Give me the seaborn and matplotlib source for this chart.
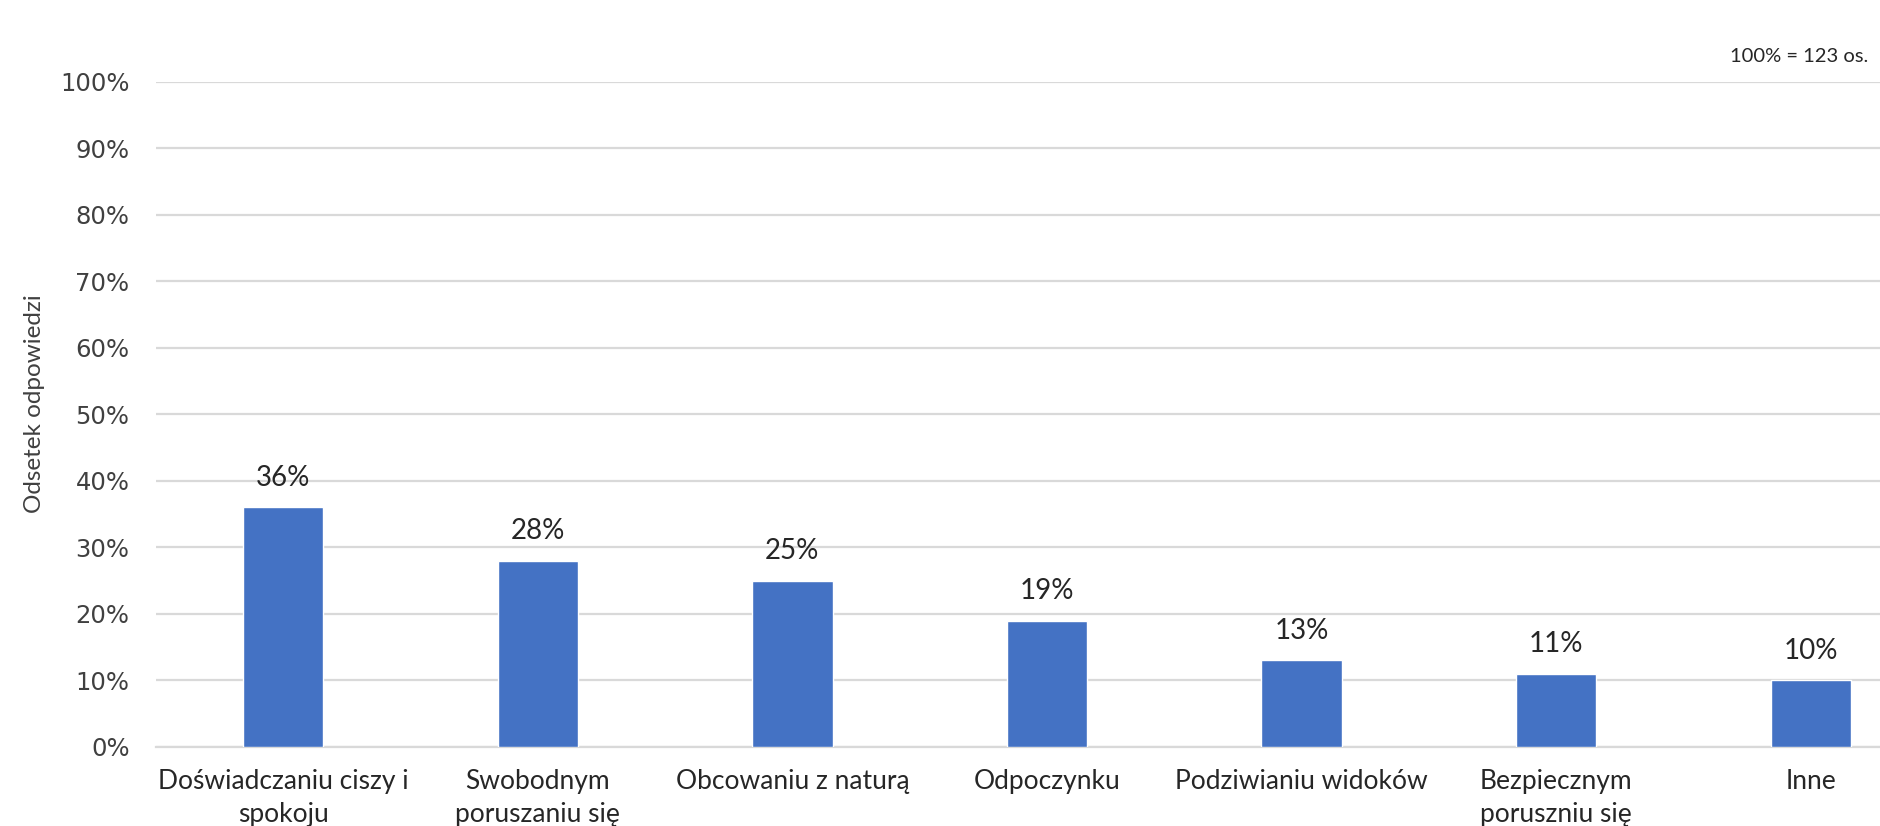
import matplotlib
matplotlib.use("Agg")
import matplotlib.pyplot as plt
import seaborn as sns
import pandas as pd

# Survey answers: share of respondents (percent)
categories = [
    "Doświadczaniu ciszy i\nspokoju",
    "Swobodnym\nporuszaniu się",
    "Obcowaniu z naturą",
    "Odpoczynku",
    "Podziwianiu widoków",
    "Bezpiecznym\nporuszniu się",
    "Inne",
]
values = [36, 28, 25, 19, 13, 11, 10]
y_ticks = [0, 10, 20, 30, 40, 50, 60, 70, 80, 90, 100]
y_tick_labels = [f"{t}%" for t in y_ticks]
y_label = "Odsetek odpowiedzi"
base_note = "100% = 123 os."

BAR_COLOR = "#4472C4"
GRID_COLOR = "#D9D9D9"
TEXT_COLOR = "#404040"

sns.set_theme(style="white")
plt.rcParams["font.family"] = ["Lato", "DejaVu Sans"]

df = pd.DataFrame({"kategoria": categories, "odsetek": values})

fig = plt.figure(figsize=(18.8, 8.26), dpi=100)
# plot area continues past the right edge of the canvas
ax = fig.add_axes([156 / 1880, 1 - 747 / 826, (1938 - 156) / 1880, (747 - 81.5) / 826])

sns.barplot(data=df, x="kategoria", y="odsetek", color=BAR_COLOR,
            width=0.315, saturation=1, ax=ax, zorder=3)

ax.set_ylim(0, 100)
ax.set_xlim(-0.5, len(categories) - 0.5)
ax.set_yticks(y_ticks, labels=y_tick_labels, fontfamily="DejaVu Sans",
              fontsize=17.5, color=TEXT_COLOR)
ax.grid(axis="y", color=GRID_COLOR, linewidth=1.6, zorder=0)
ax.grid(axis="x", visible=False)
for side in ["top", "right", "left"]:
    ax.spines[side].set_visible(False)
ax.spines["bottom"].set_color(GRID_COLOR)
ax.spines["bottom"].set_linewidth(1.6)

ax.tick_params(axis="y", length=0, pad=19)
ax.tick_params(axis="x", length=0, pad=16, labelsize=19, labelcolor="#262626")
for lbl in ax.get_xticklabels():
    lbl.set_linespacing(1.4)

ax.set_xlabel("")
ax.set_ylabel(y_label, fontsize=17.5, color=TEXT_COLOR)
ax.yaxis.set_label_coords((45 - 156) / 1782, (747 - 404) / 665.5)

for container in ax.containers:
    ax.bar_label(container, labels=[f"{v:.0f}%" for v in values],
                 padding=12, fontsize=20, color="#262626")

fig.text(1868 / 1880, 1 - 56 / 826, base_note, ha="right", va="center",
         fontsize=14.5, color="#262626")

fig.savefig("out.png", dpi=100)
